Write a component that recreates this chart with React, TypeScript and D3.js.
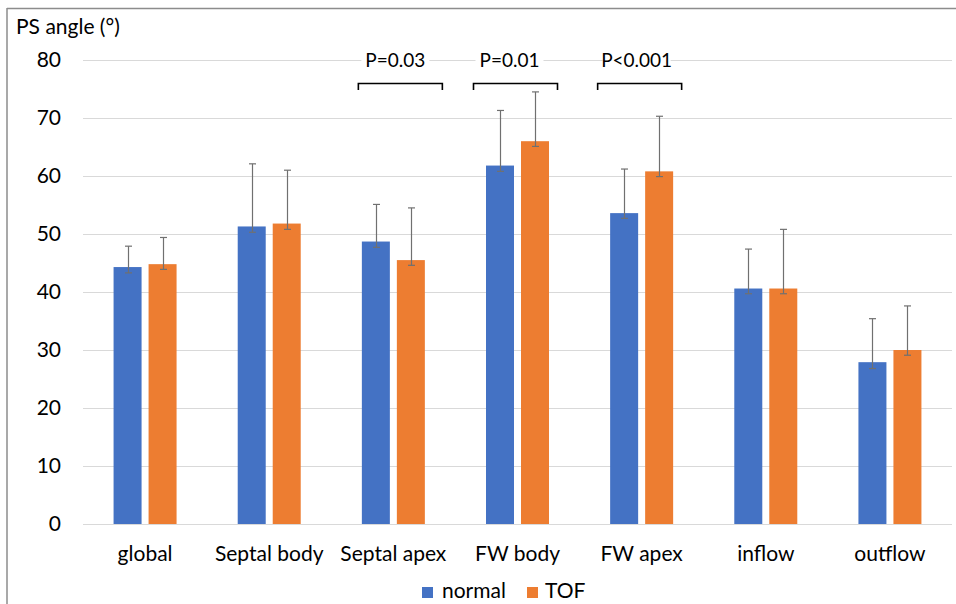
import React from "react";
import * as d3 from "d3";

// Regions of the right ventricle
const categories = ["global", "Septal body", "Septal apex", "FW body", "FW apex", "inflow", "outflow"];

// Mean PS angle (°) per group
const normalMean = [44.3, 51.3, 48.7, 61.8, 53.6, 40.6, 27.9];
const tofMean = [44.8, 51.8, 45.5, 66.0, 60.8, 40.6, 30.0];

// Error bar extents above / below the mean
const normalErrUp = [3.6, 10.8, 6.4, 9.5, 7.6, 6.8, 7.5];
const normalErrDown = [1.0, 1.0, 1.0, 1.0, 0.9, 0.9, 1.1];
const tofErrUp = [4.6, 9.2, 9.0, 8.5, 9.5, 10.2, 7.6];
const tofErrDown = [0.9, 1.0, 0.9, 0.9, 0.9, 0.9, 0.9];

const yTicks = [0, 10, 20, 30, 40, 50, 60, 70, 80];

// Significance brackets
const sigCategories = ["Septal apex", "FW body", "FW apex"];
const sigLabels = ["P=0.03", "P=0.01", "P<0.001"];

const seriesNames = ["normal", "TOF"];
const seriesColors = ["#4472C4", "#ED7D31"];

const W = 956;
const H = 604;
const FONT = "Lato, 'Open Sans', sans-serif";

export default function App() {
  const x0 = d3.scaleBand<string>().domain(categories).range([83, 952]).paddingInner(0).paddingOuter(0);
  const y = d3.scaleLinear().domain([0, 80]).range([524, 60]);

  const barW = 28;
  const innerGap = 7;
  const series = [
    { name: seriesNames[0], color: seriesColors[0], mean: normalMean, up: normalErrUp, down: normalErrDown, off: -(innerGap / 2 + barW) },
    { name: seriesNames[1], color: seriesColors[1], mean: tofMean, up: tofErrUp, down: tofErrDown, off: innerGap / 2 },
  ];
  const center = (c: string) => (x0(c) as number) + x0.bandwidth() / 2;

  const textDx = [2, -8, -5];
  const bracketDx = [7, -2, -2];

  return (
    <svg
      width={W}
      height={H}
      style={{ position: "absolute", left: 0, top: 0, background: "#fff" }}
      fontFamily={FONT}
    >
      <rect x={0} y={0} width={W} height={H} fill="#fff" />
      {/* frame */}
      <line x1={7} y1={8.5} x2={W} y2={8.5} stroke="#8c8c8c" strokeWidth={1.5} />
      <line x1={7} y1={8} x2={7} y2={H} stroke="#8c8c8c" strokeWidth={1.5} />

      <text x={16} y={34} fontSize={21} fill="#000">PS angle (°)</text>

      {/* gridlines and y tick labels */}
      {yTicks.map((t) => (
        <g key={t}>
          <line x1={83} x2={952} y1={Math.round(y(t)) + 0.5} y2={Math.round(y(t)) + 0.5} stroke="#d9d9d9" strokeWidth={1} />
          <text x={61} y={y(t)} dy="0.35em" textAnchor="end" fontSize={21} fill="#000">{t}</text>
        </g>
      ))}

      {/* bars */}
      {series.map((s) =>
        categories.map((c, i) => (
          <rect
            key={s.name + c}
            x={center(c) + s.off}
            y={y(s.mean[i])}
            width={barW}
            height={y(0) - y(s.mean[i])}
            fill={s.color}
          />
        ))
      )}

      {/* error bars */}
      {series.map((s) =>
        categories.map((c, i) => {
          const cx = Math.round(center(c) + s.off + barW / 2) + 0.5;
          const yt = y(s.mean[i] + s.up[i]);
          const yb = y(s.mean[i] - s.down[i]);
          return (
            <g key={"e" + s.name + c} stroke="#707070" strokeWidth={1.2}>
              <line x1={cx} x2={cx} y1={yt} y2={yb} />
              <line x1={cx - 3.5} x2={cx + 3.5} y1={yt} y2={yt} />
              <line x1={cx - 3.5} x2={cx + 3.5} y1={yb} y2={yb} />
            </g>
          );
        })
      )}

      {/* x labels */}
      {categories.map((c) => (
        <text key={"l" + c} x={center(c)} y={561} textAnchor="middle" fontSize={21} fill="#000">{c}</text>
      ))}

      {/* significance brackets */}
      {sigCategories.map((c, i) => {
        const cx = center(c) + bracketDx[i];
        const tx = center(c) + textDx[i];
        return (
          <g key={"s" + c}>
            <rect x={tx - 34} y={52} width={68} height={17} fill="#fff" />
            <text x={tx} y={67} textAnchor="middle" fontSize={19} fill="#000">{sigLabels[i]}</text>
            <path
              d={`M${cx - 42},${90} V${83.5} H${cx + 42} V${90}`}
              fill="none"
              stroke="#000"
              strokeWidth={1.6}
            />
          </g>
        );
      })}

      {/* legend */}
      <rect x={422} y={587} width={11} height={11} fill={seriesColors[0]} />
      <text x={442} y={598} fontSize={21} fill="#000">{seriesNames[0]}</text>
      <rect x={527} y={587} width={11} height={11} fill={seriesColors[1]} />
      <text x={545} y={598} fontSize={21} fill="#000">{seriesNames[1]}</text>
    </svg>
  );
}
